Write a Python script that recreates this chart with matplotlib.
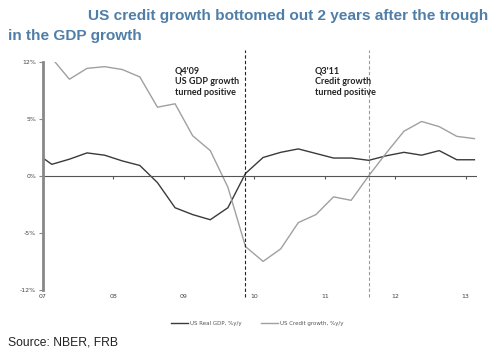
import matplotlib.pyplot as plt
import numpy as np

# Datos trimestrales, Q4'06 a Q1'13 (punto medio de cada trimestre)
trimestres = ["Q4'06", "Q1'07", "Q2'07", "Q3'07", "Q4'07", "Q1'08", "Q2'08", "Q3'08", "Q4'08",
              "Q1'09", "Q2'09", "Q3'09", "Q4'09", "Q1'10", "Q2'10", "Q3'10", "Q4'10",
              "Q1'11", "Q2'11", "Q3'11", "Q4'11", "Q1'12", "Q2'12", "Q3'12", "Q4'12", "Q1'13"]
pib = [2.1, 1.0, 1.45, 2.0, 1.8, 1.3, 0.9, -0.6, -2.8,
       -3.4, -3.85, -2.8, 0.2, 1.6, 2.05, 2.35, 1.95,
       1.55, 1.55, 1.35, 1.75, 2.05, 1.8, 2.2, 1.4, 1.4]
credito = [11.0, 10.3, 8.45, 9.4, 9.55, 9.3, 8.65, 6.0, 6.3,
           3.5, 2.2, -1.0, -6.2, -7.5, -6.4, -4.1, -3.4,
           -1.85, -2.15, 0.0, 2.0, 3.9, 4.75, 4.3, 3.45, 3.25]
anios = ["07", "08", "09", "10", "11", "12", "13"]
yticks = [10, 5, 0, -5, -10]
ylabels = ["12%", "5%", "0%", "-5%", "-12%"]

x = np.array([2006.875 + 0.25 * i for i in range(len(trimestres))])

fig = plt.figure(figsize=(4.97, 3.57), dpi=100)
ax = fig.add_axes([0.0865, 0.1877, 0.873, 0.64])

ax.plot(x, pib, color='#3a3a3a', lw=1.0, label='US Real GDP, %y/y')
ax.plot(x, credito, color='#a0a0a0', lw=1.0, label='US Credit growth, %y/y')
ax.axhline(0, color='#555555', lw=0.8)

ax.set_xlim(2007, 2013.16)
ax.set_ylim(-10, 10)

# lineas verticales de los hitos
ax.axvline(2009.875, ymin=-0.03, ymax=1.05, color='#222222', lw=0.8, ls=(0, (3, 2)), clip_on=False)
ax.axvline(2011.625, ymin=-0.03, ymax=1.05, color='#999999', lw=0.8, ls=(0, (3, 2)), clip_on=False)

ax.text(2008.87, 9.6, "Q4'09\nUS GDP growth\nturned positive", fontsize=6.5, fontweight='bold',
        family='Lato', color='#222222', va='top', linespacing=1.3)
ax.text(2010.86, 9.6, "Q3'11\nCredit growth\nturned positive", fontsize=6.5, fontweight='bold',
        family='Lato', color='#222222', va='top', ha='left', linespacing=1.3)

for s in ['top', 'right', 'bottom']:
    ax.spines[s].set_visible(False)
ax.spines['left'].set_color('#888888')
ax.spines['left'].set_linewidth(2)

ax.set_yticks(yticks)
ax.set_yticklabels(ylabels)
ax.tick_params(axis='y', labelsize=4.5, labelcolor='#444444', length=3, color='#888888', pad=2)

ax.set_xticks([2007 + i for i in range(len(anios))])
ax.set_xticklabels(anios)
ax.tick_params(axis='x', labelsize=4.5, labelcolor='#444444', length=0, pad=3)

sec = ax.secondary_xaxis(0.5)
sec.set_xticks([2007 + i for i in range(len(anios))])
sec.set_xticklabels([])
sec.tick_params(length=2, color='#555555', direction='in')
sec.spines['bottom'].set_visible(False)
sec.spines['top'].set_visible(False)

fig.legend(loc='center', bbox_to_anchor=(0.518, 0.093), ncol=2, frameon=False,
           fontsize=4.0, handlelength=3.0, columnspacing=3.5, handletextpad=0.4,
           labelcolor='#555555')

fig.text(0.177, 0.955, "US credit growth bottomed out 2 years after the trough",
         fontsize=11.1, fontweight='bold', family='Liberation Sans', color='#4f7ea8', va='center')
fig.text(0.016, 0.9, "in the GDP growth",
         fontsize=11.1, fontweight='bold', family='Liberation Sans', color='#4f7ea8', va='center')
fig.text(0.016, 0.04, "Source: NBER, FRB", fontsize=8.7, family='Liberation Sans',
         color='#222222', va='center')

fig.savefig('out.png', dpi=100)
